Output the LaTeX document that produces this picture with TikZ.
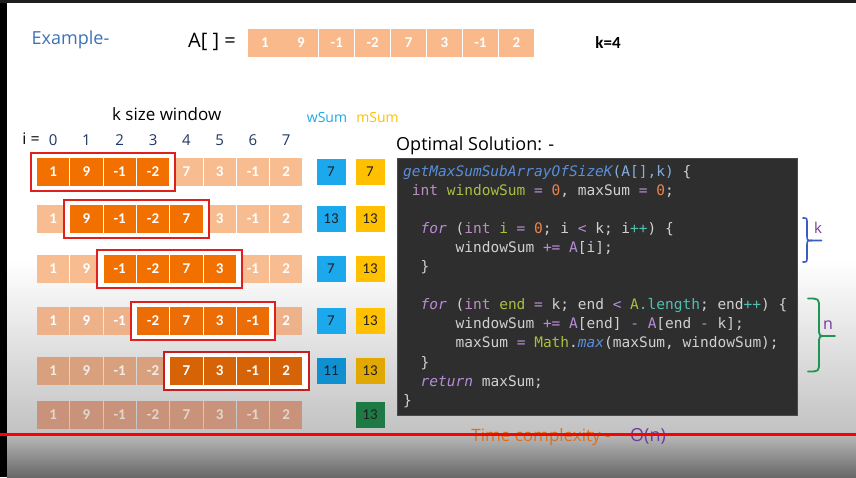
\documentclass[tikz,border=0pt]{standalone}
\usepackage{fontspec}
\usepackage{xcolor}
\usetikzlibrary{fit}
\setmainfont{Open Sans}
\newfontfamily\calfont{Carlito}
\newfontfamily\codefont{DejaVu Sans Mono}

\definecolor{exblue}{HTML}{3D72B8}
\definecolor{navy}{HTML}{1F3864}
\definecolor{peach}{HTML}{F9B98A}
\definecolor{liteA}{HTML}{F8BC91}
\definecolor{liteB}{HTML}{EDB28A}
\definecolor{liteC}{HTML}{D9A07E}
\definecolor{liteD}{HTML}{C8937A}
\definecolor{darkA}{HTML}{F27000}
\definecolor{darkB}{HTML}{EC6D06}
\definecolor{darkC}{HTML}{D66306}
\definecolor{winred}{HTML}{E0201C}
\definecolor{winredC}{HTML}{C41E1E}
\definecolor{cellfgC}{HTML}{F2ECE6}
\definecolor{cellfgD}{HTML}{E2D6CC}
\definecolor{sumblue}{HTML}{1CA8EC}
\definecolor{sumyel}{HTML}{FFC000}
\definecolor{sumblueC}{HTML}{1090D0}
\definecolor{sumyelC}{HTML}{E0A800}
\definecolor{sumgreen}{HTML}{1E7A44}
\definecolor{codebg}{HTML}{2E2E2E}
\definecolor{codeedge}{HTML}{4A4A4A}
\definecolor{codegray}{HTML}{D0D0D0}
\definecolor{codefn}{HTML}{5A8ED8}
\definecolor{codepar}{HTML}{86AEE0}
\definecolor{codetype}{HTML}{C08CC8}
\definecolor{codevar}{HTML}{A8C040}
\definecolor{codenum}{HTML}{E8844E}
\definecolor{codeop}{HTML}{B88CD8}
\definecolor{codefld}{HTML}{4EC0B0}
\definecolor{bracek}{HTML}{3A5CC4}
\definecolor{bracen}{HTML}{1F9455}
\definecolor{labpurple}{HTML}{7038A0}
\definecolor{timeorange}{HTML}{D8701E}
\definecolor{bgmid}{HTML}{C2C2C2}
\definecolor{bglowA}{HTML}{B8B8B8}
\definecolor{bglowB}{HTML}{686868}
\definecolor{topbar}{HTML}{1F1F1F}
\definecolor{barred}{HTML}{FF0000}

\newcommand\syfn[1]{\textcolor{codefn}{\itshape #1}}
\newcommand\sypar[1]{\textcolor{codepar}{#1}}
\newcommand\sytype[1]{\textcolor{codetype}{#1}}
\newcommand\syvar[1]{\textcolor{codevar}{#1}}
\newcommand\synum[1]{\textcolor{codenum}{#1}}
\newcommand\syop[1]{\textcolor{codeop}{#1}}
\newcommand\syfld[1]{\textcolor{codefld}{#1}}
\newcommand\sykw[1]{\textcolor{codeop}{\itshape #1}}

\tikzset{
  hand/.style={inner sep=1pt, font=\fontsize{17}{19}\selectfont},
  topcell/.style={fill=peach, text=white, minimum width=35pt, minimum height=28pt, inner sep=0pt, font=\calfont\bfseries\fontsize{15}{16}\selectfont},
  cell/.style={minimum width=32.3pt, minimum height=28pt, inner sep=0pt, font=\calfont\bfseries\fontsize{15}{16}\selectfont},
  redwin/.style={fill=white, line width=2pt, inner xsep=6pt, inner ysep=5pt},
  sumbox/.style={minimum width=29pt, minimum height=26pt, inner sep=0pt, text=black!88, font=\calfont\fontsize{15}{16}\selectfont},
  codeline/.style={anchor=base west, inner sep=0pt, text=codegray, font=\codefont\fontsize{14.5}{17}\selectfont},
  kbrace/.style={draw=bracek, line width=1.6pt, line cap=round},
  nbrace/.style={draw=bracen, line width=1.8pt, line cap=round}
}

\begin{document}
\begin{tikzpicture}[x=1pt, y=-1pt]
  \useasboundingbox (0,0) rectangle (856,477);
  % slide and video frame
  \fill[white] (7,3) rectangle (856,477);
  \shade[top color=white, bottom color=bgmid] (7,260) rectangle (856,433.5);
  \shade[top color=bglowA, bottom color=bglowB] (7,435) rectangle (856,477);
  \fill[black] (0,0) rectangle (7,477);
  \fill[topbar] (0,0) rectangle (856,3);

  % header
  \node[hand, text=exblue, font=\fontsize{18}{20}\selectfont] (example) at (70.5,40) {Example-};
  \node[hand, font=\fontsize{20}{22}\selectfont] (arrname) at (212,42) {A[ ] =};
  \foreach \v [count=\c from 0] in {1,9,-1,-2,7,3,-1,2}
    \node[topcell] (top\c) at ({265+35.9*\c},43) {\v};
  \node[font=\calfont\bfseries\fontsize{17}{18}\selectfont] (kval) at (608,43) {k=4};

  % window labels
  \node[hand] (ksize) at (166.7,114) {k size window};
  \node[hand, text=sumblue, font=\fontsize{14}{16}\selectfont] (wsum) at (327,117) {wSum};
  \node[hand, text=sumyel, font=\fontsize{14}{16}\selectfont] (msum) at (377.5,117) {mSum};
  \node[hand, font=\fontsize{16}{18}\selectfont] (ieq) at (31,139) {i =};
  \foreach \c in {0,...,7}
    \node[hand, text=navy, font=\fontsize{15}{17}\selectfont] (idx\c) at ({53.15+33.3*\c},140) {\c};

  % rows of the sliding window
  \foreach \r/\yc/\lt/\dk/\fg/\wr in {1/172/liteA/darkA/white/winred, 2/219/liteA/darkA/white/winred,
      3/269/liteA/darkA/white/winred, 4/321/liteB/darkB/white/winred,
      5/371/liteC/darkC/cellfgC/winredC, 6/415/liteD/darkC/cellfgD/winred} {
    \foreach \v [count=\c from 0] in {1,9,-1,-2,7,3,-1,2}
      \node[cell, fill=\lt, text=\fg] (r\r c\c) at ({53.15+33.3*\c},\yc) {\v};
    \ifnum\r<6
      \pgfmathtruncatemacro\wa{\r-1}
      \pgfmathtruncatemacro\wb{\r+2}
      \node[redwin, draw=\wr, fit=(r\r c\wa)(r\r c\wb)] (win\r) {};
      \foreach \v [count=\c from 0] in {1,9,-1,-2,7,3,-1,2} {
        \ifnum\c<\wa\relax\else\ifnum\c>\wb\relax\else
          \node[cell, fill=\dk, text=white] (w\r c\c) at (r\r c\c) {\v};
        \fi\fi
      }
    \fi
  }

  % running sums
  \foreach \r/\yc/\w/\m/\bw/\bm in {1/172/7/7/sumblue/sumyel, 2/219/13/13/sumblue/sumyel,
      3/269/7/13/sumblue/sumyel, 4/321/7/13/sumblue/sumyel, 5/371/11/13/sumblueC/sumyelC} {
    \node[sumbox, fill=\bw] (ws\r) at (331,\yc) {\w};
    \node[sumbox, fill=\bm] (ms\r) at (370,\yc) {\m};
  }
  \node[sumbox, fill=sumgreen] (ms6) at (370,415) {13};

  % code
  \node[hand, anchor=west, font=\fontsize{18}{20}\selectfont] (optimal) at (395,146) {Optimal Solution: -};
  \draw[fill=codebg, draw=codeedge, line width=1pt] (397,158) rectangle (797,415);
  \node[codeline] (code1) at (403,176) {\syfn{getMaxSumSubArrayOfSizeK}\sypar{(A[],k)} \{};
  \node[codeline] (code2) at (411.75,195.1) {\sytype{int} \syvar{windowSum} \syop{=} \synum{0}, maxSum \syop{=} \synum{0};};
  \node[codeline] (code4) at (420.5,233.3) {\sykw{for} (\sytype{int} \syvar{i} \syop{=} \synum{0}; i \syop{<} k; i\syfld{++}) \{};
  \node[codeline] (code5) at (455.5,252.4) {windowSum \syop{+=} \syop{A}[i];};
  \node[codeline] (code6) at (420.5,271.5) {\}};
  \node[codeline] (code8) at (420.5,309.7) {\sykw{for} (\sytype{int} \syvar{end} \syop{=} k; end \syop{<} \syvar{A}\syfld{.length}; end\syfld{++}) \{};
  \node[codeline] (code9) at (455.5,328.8) {windowSum \syop{+=} \syop{A}[end] \syop{-} \syop{A}[end \syop{-} k];};
  \node[codeline] (code10) at (455.5,347.9) {maxSum \syop{=} \syvar{Math}.\syfn{max}(maxSum, windowSum);};
  \node[codeline] (code11) at (420.5,367) {\}};
  \node[codeline] (code12) at (420.5,386.1) {\sykw{return} maxSum;};
  \node[codeline] (code13) at (403,405.2) {\}};

  % braces
  \draw[kbrace] (803,218) .. controls (807,218) .. (807,224) -- (807,235) .. controls (807,240.5) .. (812,240.5) -- (821.5,240.5);
  \draw[kbrace] (803,262) .. controls (807,262) .. (807,256) -- (807,246) .. controls (807,240.5) .. (812,240.5);
  \node[hand, text=labpurple, font=\fontsize{15}{17}\selectfont] (klab) at (818,228) {k};
  \draw[nbrace] (808,298.5) .. controls (819,298.5) .. (819,308) -- (819,328) .. controls (819,336) .. (826,336) -- (835,336);
  \draw[nbrace] (808,371.5) .. controls (819,371.5) .. (819,362) -- (819,344) .. controls (819,336) .. (826,336);
  \node[hand, text=labpurple, font=\fontsize{16}{18}\selectfont] (nlab) at (828,325) {n};

  % complexity
  \node[hand, text=timeorange] (timec) at (541,437) {Time complexity -};
  \node[hand, text=labpurple, font=\fontsize{18}{20}\selectfont] (bigo) at (648,436) {O(n)};
  \draw[barred, line width=3pt] (0,434.3) -- (856,434.3);
\end{tikzpicture}
\end{document}
